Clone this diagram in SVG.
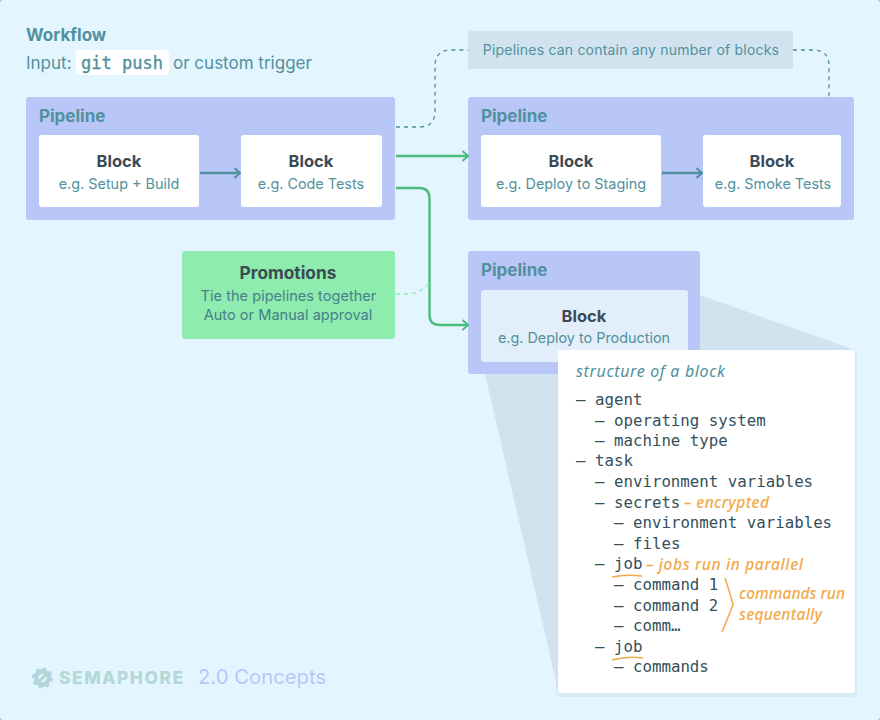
<svg xmlns="http://www.w3.org/2000/svg" width="880" height="720" viewBox="0 0 880 720">
<style>
text{font-family:"Inter","Liberation Sans",sans-serif}
.pipe{fill:#b9c6f8}
.block{fill:#fff}
.pt{font-size:17px;font-weight:700;fill:#52919c}
.bt{font-size:16.5px;font-weight:700;fill:#3c4a56;text-anchor:middle}
.bs{font-size:14.4px;fill:#52919c;text-anchor:middle}
.ps{font-size:14.6px;fill:#47808c;text-anchor:middle}
.code{font-family:"DejaVu Sans Mono","Liberation Mono",monospace;font-size:15.75px;fill:#33505c}
.hand{font-family:"Noto Sans",sans-serif;font-style:italic;font-weight:500;font-size:15.5px;fill:#f2a94a}
.dash{fill:none;stroke:#52919c;stroke-width:1.3;stroke-dasharray:4 4}
.green{fill:none;stroke:#4dbb7c;stroke-width:2.4}
.teal{fill:none;stroke:#52919c;stroke-width:2.4}
.orange{fill:none;stroke:#f2a94a;stroke-width:1.5}
</style>
<defs>
<marker id="ga" markerWidth="10" markerHeight="12" refX="8" refY="6" orient="auto" markerUnits="userSpaceOnUse"><path d="M2.5 1L8 6L2.5 11" fill="none" stroke="#4dbb7c" stroke-width="2"/></marker>
<marker id="ta" markerWidth="10" markerHeight="12" refX="8" refY="6" orient="auto" markerUnits="userSpaceOnUse"><path d="M2.5 1L8 6L2.5 11" fill="none" stroke="#52919c" stroke-width="2"/></marker>
</defs>
<rect width="880" height="720" fill="#7fbcb8"/>
<rect width="880" height="720" rx="3" fill="#e3f6ff"/>
<g id="title">
<text x="26" y="41" font-size="17" font-weight="700" fill="#52919c">Workflow</text>
<text x="26" y="69" font-size="17" fill="#52919c">Input:</text>
<rect x="76" y="50" width="93" height="25" rx="4" fill="#fff"/>
<text x="81" y="69" font-size="17" font-weight="400" fill="#52919c" stroke="#52919c" stroke-width=".35" style="font-family:'DejaVu Sans Mono','Liberation Mono',monospace">git push</text>
<text x="173" y="69" font-size="17" fill="#52919c">or custom trigger</text>
</g>
<g id="cone">
<rect x="556" y="352" width="301" height="345" rx="4" fill="#d8eaf4"/>
<polygon points="700,295 855,350 855,690 558,690 485,374 700,374" fill="#d0e3ef"/>
</g>
<g id="note">
<rect x="468" y="31" width="325" height="38" rx="2" fill="#d0e3ef"/>
<text x="631" y="55" font-size="14" fill="#52919c" text-anchor="middle" letter-spacing=".2">Pipelines can contain any number of blocks</text>
</g>
<g id="pipeline-1">
<rect class="pipe" x="26" y="97" width="369" height="123" rx="3"/>
<text class="pt" x="39" y="122">Pipeline</text>
<g id="block-setup"><rect class="block" x="39" y="135" width="160" height="72" rx="3"/>
<text class="bt" x="119" y="167">Block</text><text class="bs" x="119" y="189">e.g. Setup + Build</text></g>
<g id="block-tests"><rect class="block" x="241" y="135" width="141" height="72" rx="3"/>
<text class="bt" x="311" y="167">Block</text><text class="bs" x="311" y="189">e.g. Code Tests</text></g>
</g>
<g id="pipeline-2">
<rect class="pipe" x="468" y="97" width="386" height="123" rx="3"/>
<text class="pt" x="481" y="122">Pipeline</text>
<g id="block-staging"><rect class="block" x="481" y="135" width="180" height="72" rx="3"/>
<text class="bt" x="571" y="167">Block</text><text class="bs" x="571" y="189">e.g. Deploy to Staging</text></g>
<g id="block-smoke"><rect class="block" x="703" y="135" width="138" height="72" rx="3"/>
<text class="bt" x="772" y="167">Block</text><text class="bs" x="773" y="189">e.g. Smoke Tests</text></g>
</g>
<g id="promotions">
<rect x="182" y="251" width="213" height="88" rx="3" fill="#8decae"/>
<text class="bt" x="288" y="279" style="font-size:17.300px">Promotions</text>
<text class="ps" x="288.500" y="301">Tie the pipelines together</text>
<text class="ps" x="288" y="320">Auto or Manual approval</text>
</g>
<g id="pipeline-3">
<rect class="pipe" x="468" y="251" width="232" height="123" rx="3"/>
<text class="pt" x="481" y="276">Pipeline</text>
<g id="block-production"><rect x="481" y="290" width="207" height="72" rx="3" fill="#e2effb"/>
<text class="bt" x="584" y="322">Block</text><text class="bs" x="584" y="343">e.g. Deploy to Production</text></g>
</g>
<g id="connectors">
<path class="teal" marker-end="url(#ta)" d="M200 173H240"/>
<path class="teal" marker-end="url(#ta)" d="M662 173H702"/>
<path class="dash" d="M396 127H419Q435 127 435 111V66Q435 50 451 50H468"/>
<path class="dash" d="M793 50H813Q829 50 829 66V97"/>
<path class="green" marker-end="url(#ga)" d="M396 156H468"/>
<path class="green" marker-end="url(#ga)" d="M396 188H419Q429.500 188 429.500 198V315Q429.500 325 440 325H468"/>
<path d="M396 294H408Q420 294 429 283" fill="none" stroke="#8decae" stroke-width="1.300" stroke-dasharray="4 4"/>
</g>
<g id="structure">
<rect x="558" y="350" width="297" height="343" rx="3" fill="#fff"/>
<text x="576" y="377" font-size="16" font-style="italic" textLength="149" style="font-family:'Noto Sans',sans-serif;fill:#52919c">structure of a block</text>
<text class="code" x="576" y="405">– agent</text>
<text class="code" x="595" y="426">– operating system</text>
<text class="code" x="595" y="446">– machine type</text>
<text class="code" x="576" y="466">– task</text>
<text class="code" x="595" y="487">– environment variables</text>
<text class="code" x="595" y="508">– secrets</text>
<text class="code" x="614" y="528">– environment variables</text>
<text class="code" x="614" y="549">– files</text>
<text class="code" x="595" y="569">– job</text>
<text class="code" x="614" y="590">– command 1</text>
<text class="code" x="614" y="611">– command 2</text>
<text class="code" x="614" y="631">– comm…</text>
<text class="code" x="595" y="652">– job</text>
<text class="code" x="614" y="672">– commands</text>
</g>
<g id="annotations">
<text class="hand" x="684" y="508" textLength="85">– encrypted</text>
<text class="hand" x="646" y="570" textLength="157">– jobs run in parallel</text>
<text class="hand" x="739" y="599" textLength="106">commands run</text>
<text class="hand" x="739" y="620" textLength="83">sequentally</text>
<path class="orange" d="M612 577Q626 574 642 576"/>
<path class="orange" d="M612 660Q626 656 643 658"/>
<path class="orange" d="M725 578Q731 596 733 605L722 632"/>
</g>
<g id="footer">
<g id="logo" fill="none">
<circle cx="42.500" cy="678" r="6.500" stroke="#b4d4e0" stroke-width="5"/>
<circle cx="42.500" cy="678" r="9" stroke="#b4d4e0" stroke-width="3" stroke-dasharray="3.500 3.570"/>
<path d="M36 684L49 672" stroke="#b4d8d0" stroke-width="3"/>
</g>
<text x="59" y="684" font-size="17.500" font-weight="800" fill="#b4d8d8" letter-spacing="1.450">SEMAPHORE</text>
<text x="198" y="684" font-size="20.300" fill="#b9c6f8">2.0 Concepts</text>
</g>
</svg>
